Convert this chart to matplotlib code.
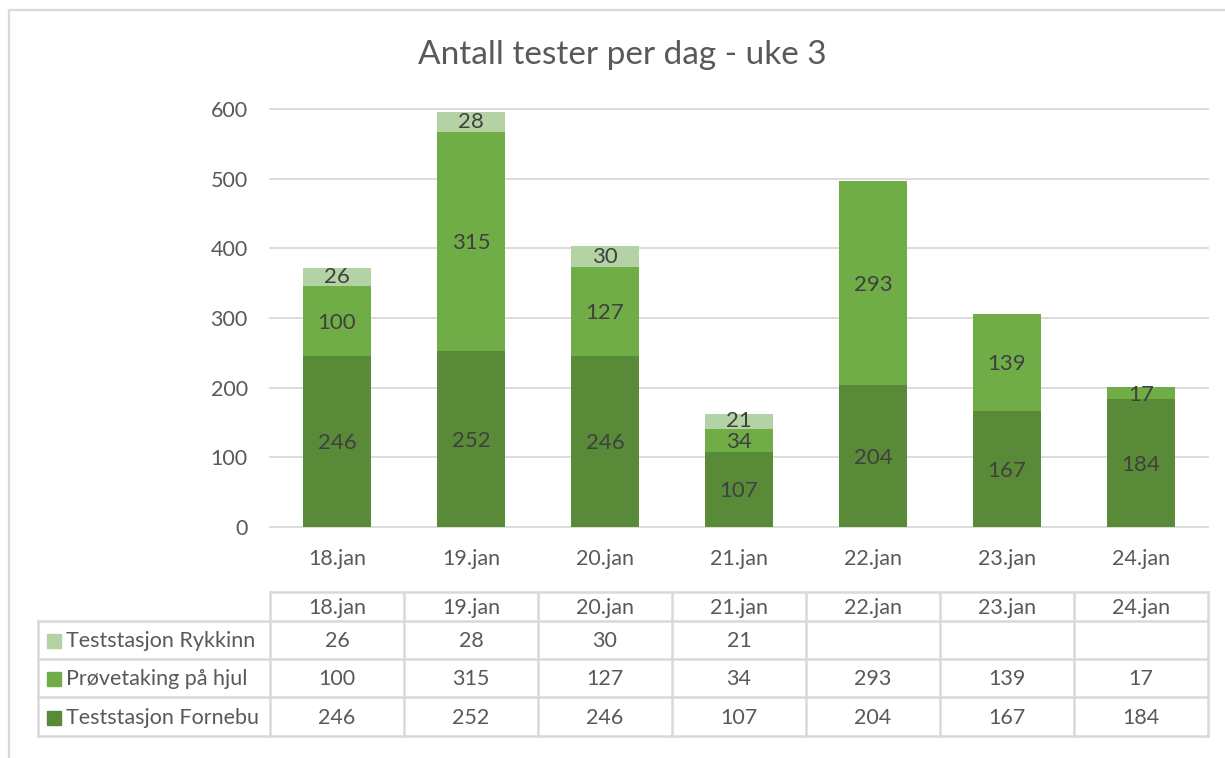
import matplotlib.pyplot as plt
import numpy as np

# data
days = ['18.jan', '19.jan', '20.jan', '21.jan', '22.jan', '23.jan', '24.jan']
fornebu = [246, 252, 246, 107, 204, 167, 184]
hjul = [100, 315, 127, 34, 293, 139, 17]
rykkinn = [26, 28, 30, 21, None, None, None]
series_names = ['Teststasjon Rykkinn', 'Prøvetaking på hjul', 'Teststasjon Fornebu']

col_dark = '#588A38'
col_mid = '#70AD47'
col_light = '#B4D3A5'
txt = '#404040'
lbl = '#595959'
grid = '#D9D9D9'

plt.rcParams['font.family'] = ['Lato', 'DejaVu Sans']
fs = 15.5

W, H = 1225, 758
fig = plt.figure(figsize=(W / 100, H / 100), dpi=100, facecolor='white')

# plot area in pixel coordinates
left, right, top, bottom = 270, 1208, 109, 527
ax = fig.add_axes([left / W, 1 - bottom / H, (right - left) / W, (bottom - top) / H])

x = np.arange(len(days))
ryk = np.array([np.nan if v is None else v for v in rykkinn], dtype=float)
f = np.array(fornebu, dtype=float)
h = np.array(hjul, dtype=float)

bw = 0.51
ax.bar(x, f, bw, color=col_dark, zorder=3)
ax.bar(x, h, bw, bottom=f, color=col_mid, zorder=3)
ax.bar(x, np.nan_to_num(ryk), bw, bottom=f + h, color=col_light, zorder=3)

# data labels (Excel puts them a hair below centre)
dfs = 16
off = -2.5
for i in range(len(days)):
    ax.text(x[i], f[i] / 2 + off, f'{int(f[i])}', ha='center', va='center',
            fontsize=dfs, color=txt, zorder=4)
    ax.text(x[i], f[i] + h[i] / 2 + off, f'{int(h[i])}', ha='center', va='center',
            fontsize=dfs, color=txt, zorder=4)
    if not np.isnan(ryk[i]):
        ax.text(x[i], f[i] + h[i] + ryk[i] / 2, f'{int(ryk[i])}', ha='center',
                va='center', fontsize=dfs, color=txt, zorder=4)

ax.set_xlim(-0.5, len(days) - 0.5)
ax.set_ylim(0, 600)
ax.set_yticks(range(0, 601, 100))
ax.set_xticks(x)
ax.set_xticklabels(days)
ax.yaxis.grid(True, color=grid, linewidth=1.3, zorder=0)
ax.tick_params(axis='both', length=0, labelsize=fs, labelcolor=lbl)
ax.tick_params(axis='y', pad=16)
ax.tick_params(axis='x', pad=16)
for s in ax.spines.values():
    s.set_visible(False)
for yl in ax.get_ygridlines():
    yl.set_clip_on(False)

fig.text(622 / W, 1 - 55 / H, 'Antall tester per dag - uke 3', ha='center',
         va='center', fontsize=24, color=lbl)

# overlay for data table and outer frame (pixel coords)
ov = fig.add_axes([0, 0, 1, 1], zorder=-1)
ov.set_xlim(0, W)
ov.set_ylim(H, 0)
ov.axis('off')

# outer chart border
ov.plot([9, 9, W + 5], [H + 5, 9.5, 9.5], color=grid, lw=1.6)

ncol = len(days)
cw = (right - left) / ncol
rows_y = [592, 621, 659, 697, 736]
lab_left = 38
lw = 1.8
# horizontal lines
ov.plot([left, right], [rows_y[0]] * 2, color=grid, lw=lw)
for yy in rows_y[1:]:
    ov.plot([lab_left, right], [yy, yy], color=grid, lw=lw)
# vertical lines
ov.plot([lab_left, lab_left], [rows_y[1], rows_y[-1]], color=grid, lw=lw)
for j in range(ncol + 1):
    xx = left + j * cw
    ov.plot([xx, xx], [rows_y[0], rows_y[-1]], color=grid, lw=lw)

# header
for j, d in enumerate(days):
    ov.text(left + (j + 0.5) * cw, (rows_y[0] + rows_y[1]) / 2 + 1, d, ha='center',
            va='center', fontsize=fs, color=lbl)

table_rows = [rykkinn, hjul, fornebu]
row_cols = [col_light, col_mid, col_dark]
for r, (name, vals, c) in enumerate(zip(series_names, table_rows, row_cols)):
    yc = (rows_y[r + 1] + rows_y[r + 2]) / 2 + 1
    ov.add_patch(plt.Rectangle((47, yc - 7), 14, 14, color=c))
    ov.text(66, yc, name, ha='left', va='center', fontsize=fs, color=lbl)
    for j, v in enumerate(vals):
        if v is None:
            continue
        ov.text(left + (j + 0.5) * cw, yc, str(v), ha='center', va='center',
                fontsize=fs, color=lbl)

fig.savefig('out.png', dpi=100, facecolor='white')
